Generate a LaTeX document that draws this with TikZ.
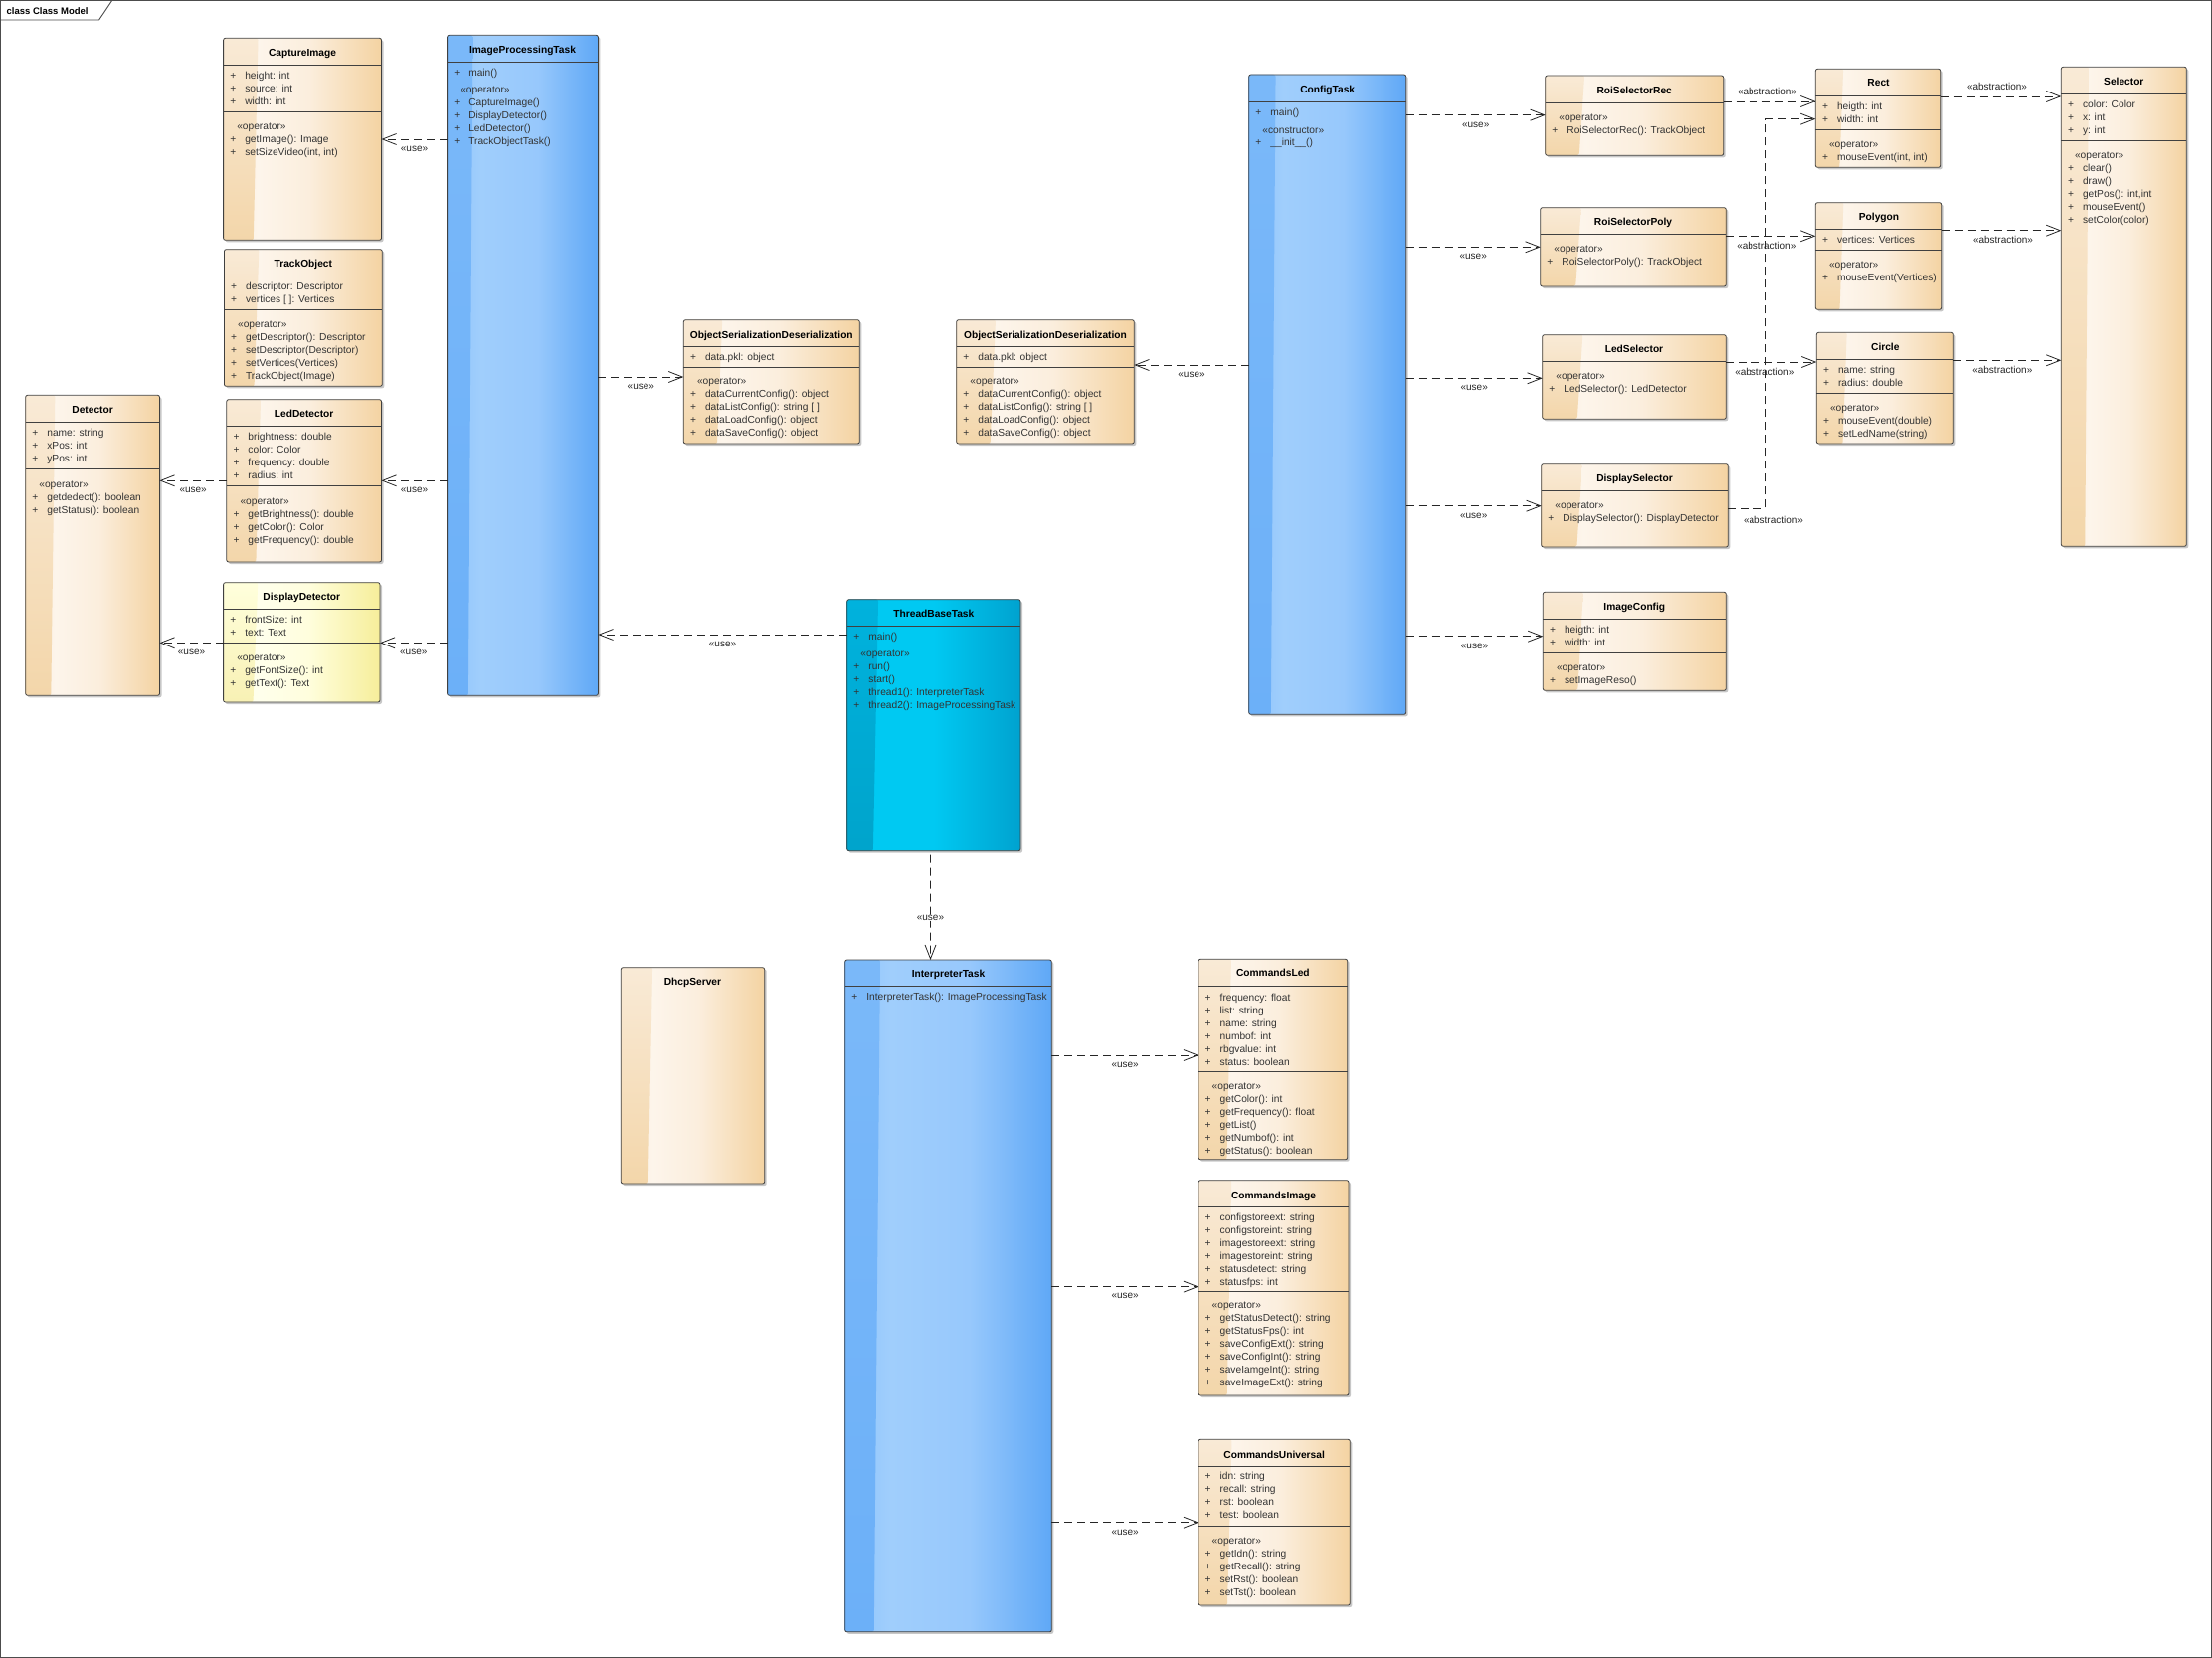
\documentclass[tikz,border=0pt]{standalone}
\usepackage{fontspec}
\setmainfont{Liberation Sans}
\usetikzlibrary{arrows.meta,shadows,calc}

\definecolor{orL}{HTML}{F9EAD6}
\definecolor{orM}{HTML}{FDF5EB}
\definecolor{orM2}{HTML}{FBEEDD}
\definecolor{orR}{HTML}{F4D3A2}
\definecolor{orS}{HTML}{F3D6AA}
\definecolor{blL}{HTML}{8CC3FB}
\definecolor{blM}{HTML}{A0CEFC}
\definecolor{blM2}{HTML}{97C8FC}
\definecolor{blR}{HTML}{5FA8F6}
\definecolor{blS}{HTML}{6CB0F8}
\definecolor{cyM}{HTML}{00C9F2}
\definecolor{cyR}{HTML}{00A2CF}
\definecolor{cyS}{HTML}{00B2DD}
\definecolor{yeL}{HTML}{FFFFDC}
\definecolor{yeM}{HTML}{FFFFEC}
\definecolor{yeM2}{HTML}{FFFEDD}
\definecolor{yeR}{HTML}{F6EE9A}
\definecolor{yeS}{HTML}{F8F1B4}

\pgfdeclarehorizontalshading{orsh}{100bp}{color(0bp)=(orL); color(25bp)=(orL); color(36bp)=(orM); color(52bp)=(orM2); color(75bp)=(orR); color(100bp)=(orR)}
\pgfdeclarehorizontalshading{blsh}{100bp}{color(0bp)=(blL); color(25bp)=(blL); color(36bp)=(blM); color(55bp)=(blM2); color(75bp)=(blR); color(100bp)=(blR)}
\pgfdeclarehorizontalshading{cysh}{100bp}{color(0bp)=(cyM); color(25bp)=(cyM); color(50bp)=(cyM); color(75bp)=(cyR); color(100bp)=(cyR)}
\pgfdeclarehorizontalshading{yesh}{100bp}{color(0bp)=(yeL); color(25bp)=(yeL); color(36bp)=(yeM); color(52bp)=(yeM2); color(75bp)=(yeR); color(100bp)=(yeR)}

\newcommand{\bodyf}{\fontsize{10.2}{13}\selectfont}
\newcommand{\op}[1]{\makebox[15pt][l]{+}#1}
\newcommand{\st}[1]{\hspace{7pt}«#1»}
\newcommand{\ucls}[8]{%
  \pgfmathsetmacro{\uw}{#5-#3}\pgfmathsetmacro{\uh}{#6-#4}%
  \node[#2, minimum width=\uw pt, minimum height=\uh pt] (#1) at (#3,#4) {};
  \node[ttl] (#1-t) at ({(#3+#5)/2},#8) {#7};}
\newcommand{\usep}[2]{\draw[sepl] (#1.west |- 0,#2) -- (#1.east |- 0,#2);}
\newcommand{\ucmp}[4]{\node[cmp] (#1) at (#2,#3) {\begin{tabular}[t]{@{}l@{}}#4\end{tabular}};}

\tikzset{
  box/.style={rectangle, draw=black!75, line width=0.8pt, rounded corners=2pt,
    inner sep=0pt, outer sep=0pt, anchor=north west,
    drop shadow={shadow xshift=2pt, shadow yshift=-2pt, opacity=0.22, fill=black}},
  strip/.style n args={4}{path picture={\shade[top color=#1, bottom color=#2]
    (path picture bounding box.south west)
    -- ($(path picture bounding box.south west)!#3!(path picture bounding box.south east)$)
    -- ($(path picture bounding box.north west)!#4!(path picture bounding box.north east)$)
    -- (path picture bounding box.north west) -- cycle;}},
  orbox/.style={box, shade, shading=orsh, strip={orL}{orS}{0.19}{0.22}},
  blbox/.style={box, shade, shading=blsh, strip={blS!55!blL}{blS}{0.14}{0.17}},
  cybox/.style={box, shade, shading=cysh, strip={cyS}{cyS!92!black}{0.15}{0.18}},
  yebox/.style={box, shade, shading=yesh, strip={yeL}{yeS}{0.19}{0.22}},
  ttl/.style={font=\bfseries\bodyf, inner sep=0pt, text height=7.4pt, text depth=2pt, text=black},
  cmp/.style={anchor=base west, inner sep=0pt, font=\bodyf, text=black!80},
  sepl/.style={draw=black!75, line width=0.8pt},
  dep/.style={draw=black!85, line width=0.8pt, dash pattern=on 8pt off 5pt,
    -{Straight Barb[length=14pt,width=11pt]}},
  lb/.style={font=\fontsize{10}{12}\selectfont, inner sep=0.5pt, text=black!85},
  lbb/.style={lb, midway, yshift=-9.7pt},
  lba/.style={lb, midway, yshift=10.5pt}
}

\begin{document}
\begin{tikzpicture}[x=1pt,y=-1pt]
\useasboundingbox (0,0) rectangle (2224,1667);
\fill[white] (0,0) rectangle (2224,1667);

% frame
\draw[black!70, line width=0.9pt] (0.5,0.5) rectangle (2223.5,1666.5);
\draw[black!70, line width=0.9pt] (0.5,20) -- (99.6,20) -- (112.7,0.5);
\node[font=\bfseries\fontsize{9.5}{11}\selectfont, anchor=west, inner sep=0pt] (frametitle) at (6.5,10.7) {class Class Model};

% ---------- left group ----------
\ucls{ci}{orbox}{224.6}{38.3}{383.5}{241.3}{CaptureImage}{53.7}
\usep{ci}{65.3}\usep{ci}{112.3}
\ucmp{ci-a}{231.1}{79.4}{\op{height: int}\\\op{source: int}\\\op{width: int}}
\ucmp{ci-m}{231.1}{130.7}{\st{operator}\\\op{getImage(): Image}\\\op{setSizeVideo(int, int)}}

\ucls{to}{orbox}{225.4}{250.7}{384.3}{388.3}{TrackObject}{265.7}
\usep{to}{277.3}\usep{to}{311.7}
\ucmp{to-a}{231.9}{291.4}{\op{descriptor: Descriptor}\\\op{vertices [ ]: Vertices}}
\ucmp{to-m}{231.9}{329.4}{\st{operator}\\\op{getDescriptor(): Descriptor}\\\op{setDescriptor(Descriptor)}\\\op{setVertices(Vertices)}\\\op{TrackObject(Image)}}

\ucls{ipt}{blbox}{449.6}{35.3}{601.4}{699.3}{ImageProcessingTask}{51}
\usep{ipt}{62.3}
\ucmp{ipt-m}{456.1}{76.7}{\op{main()}\\[4pt]\st{operator}\\\op{CaptureImage()}\\\op{DisplayDetector()}\\\op{LedDetector()}\\\op{TrackObjectTask()}}

\ucls{det}{orbox}{25.7}{397.3}{160.5}{699.3}{Detector}{412.7}
\usep{det}{424.3}\usep{det}{471.3}
\ucmp{det-a}{32.2}{438.4}{\op{name: string}\\\op{xPos: int}\\\op{yPos: int}}
\ucmp{det-m}{32.2}{490}{\st{operator}\\\op{getdedect(): boolean}\\\op{getStatus(): boolean}}

\ucls{led}{orbox}{227.8}{401.7}{383.5}{565}{LedDetector}{416.7}
\usep{led}{428.3}\usep{led}{488.3}
\ucmp{led-a}{234.3}{442.4}{\op{brightness: double}\\\op{color: Color}\\\op{frequency: double}\\\op{radius: int}}
\ucmp{led-m}{234.3}{507}{\st{operator}\\\op{getBrightness(): double}\\\op{getColor(): Color}\\\op{getFrequency(): double}}

\ucls{dd}{yebox}{224.6}{585.7}{382}{706}{DisplayDetector}{600.7}
\usep{dd}{612.3}\usep{dd}{646.3}
\ucmp{dd-a}{231.1}{626.4}{\op{frontSize: int}\\\op{text: Text}}
\ucmp{dd-m}{231.1}{664.7}{\st{operator}\\\op{getFontSize(): int}\\\op{getText(): Text}}

% ---------- serialization ----------
\ucls{osd1}{orbox}{687.3}{321.7}{864.3}{446}{ObjectSerializationDeserialization}{337.3}
\usep{osd1}{348.3}\usep{osd1}{369.3}
\ucmp{osd1-a}{693.8}{362.7}{\op{data.pkl: object}}
\ucmp{osd1-m}{693.8}{386}{\st{operator}\\\op{dataCurrentConfig(): object}\\\op{dataListConfig(): string [ ]}\\\op{dataLoadConfig(): object}\\\op{dataSaveConfig(): object}}

\ucls{osd2}{orbox}{961.7}{321.7}{1140.3}{446}{ObjectSerializationDeserialization}{337.3}
\usep{osd2}{348.3}\usep{osd2}{369.3}
\ucmp{osd2-a}{968.2}{362.7}{\op{data.pkl: object}}
\ucmp{osd2-m}{968.2}{386}{\st{operator}\\\op{dataCurrentConfig(): object}\\\op{dataListConfig(): string [ ]}\\\op{dataLoadConfig(): object}\\\op{dataSaveConfig(): object}}

% ---------- config group ----------
\ucls{ct}{blbox}{1255.7}{75}{1413.7}{718.3}{ConfigTask}{91}
\usep{ct}{102.3}
\ucmp{ct-m}{1262.2}{116.4}{\op{main()}\\[5pt]\st{constructor}\\[-1pt]\op{\_\_init\_\_()}}

\ucls{rsr}{orbox}{1553.7}{76}{1732.7}{156.3}{RoiSelectorRec}{91.7}
\usep{rsr}{103.3}
\ucmp{rsr-m}{1560.2}{122}{\st{operator}\\\op{RoiSelectorRec(): TrackObject}}

\ucls{rsp}{orbox}{1548.7}{208.7}{1735.3}{288}{RoiSelectorPoly}{224}
\usep{rsp}{235.3}
\ucmp{rsp-m}{1555.2}{253.7}{\st{operator}\\\op{RoiSelectorPoly(): TrackObject}}

\ucls{ls}{orbox}{1550.7}{336.7}{1735.3}{421.3}{LedSelector}{351.7}
\usep{ls}{363.3}
\ucmp{ls-m}{1557.2}{381.4}{\st{operator}\\\op{LedSelector(): LedDetector}}

\ucls{ds}{orbox}{1549.7}{466.7}{1737.3}{550}{DisplaySelector}{481.7}
\usep{ds}{493.3}
\ucmp{ds-m}{1556.2}{511.4}{\st{operator}\\\op{DisplaySelector(): DisplayDetector}}

\ucls{ic}{orbox}{1551.3}{595.3}{1735.3}{694.3}{ImageConfig}{610.7}
\usep{ic}{622.3}\usep{ic}{656.3}
\ucmp{ic-a}{1557.8}{636.4}{\op{heigth: int}\\\op{width: int}}
\ucmp{ic-m}{1557.8}{674.4}{\st{operator}\\\op{setImageReso()}}

\ucls{rect}{orbox}{1825.3}{69.3}{1951.7}{168.3}{Rect}{84.3}
\usep{rect}{96.3}\usep{rect}{130.3}
\ucmp{rect-a}{1831.8}{110.4}{\op{heigth: int}\\\op{width: int}}
\ucmp{rect-m}{1831.8}{148.7}{\st{operator}\\\op{mouseEvent(int, int)}}

\ucls{poly}{orbox}{1825.3}{203.7}{1952.7}{311.3}{Polygon}{218.7}
\usep{poly}{230.3}\usep{poly}{251.3}
\ucmp{poly-a}{1831.8}{244.4}{\op{vertices: Vertices}}
\ucmp{poly-m}{1831.8}{269.7}{\st{operator}\\\op{mouseEvent(Vertices)}}

\ucls{circ}{orbox}{1826.3}{334.3}{1964.3}{446}{Circle}{349.3}
\usep{circ}{361.3}\usep{circ}{395.3}
\ucmp{circ-a}{1832.8}{375.4}{\op{name: string}\\\op{radius: double}}
\ucmp{circ-m}{1832.8}{413.7}{\st{operator}\\\op{mouseEvent(double)}\\\op{setLedName(string)}}

\ucls{sel}{orbox}{2072.3}{67.3}{2198.3}{549.3}{Selector}{82.7}
\usep{sel}{94.3}\usep{sel}{141.3}
\ucmp{sel-a}{2078.8}{108.4}{\op{color: Color}\\\op{x: int}\\\op{y: int}}
\ucmp{sel-m}{2078.8}{159.4}{\st{operator}\\\op{clear()}\\\op{draw()}\\\op{getPos(): int,int}\\\op{mouseEvent()}\\\op{setColor(color)}}

% ---------- thread / interpreter ----------
\ucls{tbt}{cybox}{851.7}{602.7}{1026}{855.7}{ThreadBaseTask}{617.3}
\usep{tbt}{629}
\ucmp{tbt-m}{858.2}{643.7}{\op{main()}\\[4pt]\st{operator}\\\op{run()}\\\op{start()}\\\op{thread1(): InterpreterTask}\\\op{thread2(): ImageProcessingTask}}

\ucls{it}{blbox}{849.7}{965}{1057.3}{1640.8}{InterpreterTask}{979.3}
\usep{it}{991.7}
\ucmp{it-m}{856.2}{1005.4}{\op{InterpreterTask(): ImageProcessingTask}}

\ucls{dhcp}{orbox}{624.3}{972.7}{768.7}{1190}{DhcpServer}{987.7}

\ucls{cl}{orbox}{1205}{964.3}{1354.7}{1165.7}{CommandsLed}{979}
\usep{cl}{991.7}\usep{cl}{1077.3}
\ucmp{cl-a}{1211.5}{1006}{\op{frequency: float}\\\op{list: string}\\\op{name: string}\\\op{numbof: int}\\\op{rbgvalue: int}\\\op{status: boolean}}
\ucmp{cl-m}{1211.5}{1095.7}{\st{operator}\\\op{getColor(): int}\\\op{getFrequency(): float}\\\op{getList()}\\\op{getNumbof(): int}\\\op{getStatus(): boolean}}

\ucls{cmi}{orbox}{1205}{1186.7}{1356}{1403}{CommandsImage}{1202.7}
\usep{cmi}{1213.3}\usep{cmi}{1298.3}
\ucmp{cmi-a}{1211.5}{1227.4}{\op{configstoreext: string}\\\op{configstoreint: string}\\\op{imagestoreext: string}\\\op{imagestoreint: string}\\\op{statusdetect: string}\\\op{statusfps: int}}
\ucmp{cmi-m}{1211.5}{1315.7}{\st{operator}\\\op{getStatusDetect(): string}\\\op{getStatusFps(): int}\\\op{saveConfigExt(): string}\\\op{saveConfigInt(): string}\\\op{saveIamgeInt(): string}\\\op{saveImageExt(): string}}

\ucls{cu}{orbox}{1205}{1447.3}{1357.3}{1614}{CommandsUniversal}{1463.3}
\usep{cu}{1474}\usep{cu}{1534}
\ucmp{cu-a}{1211.5}{1487.7}{\op{idn: string}\\\op{recall: string}\\\op{rst: boolean}\\\op{test: boolean}}
\ucmp{cu-m}{1211.5}{1552.4}{\st{operator}\\\op{getIdn(): string}\\\op{getRecall(): string}\\\op{setRst(): boolean}\\\op{setTst(): boolean}}

% ---------- connectors ----------
\draw[dep] (ipt.west |- 0,140) -- node[lbb]{«use»} (ci.east |- 0,140);
\draw[dep] (ipt.west |- 0,483.3) -- node[lbb]{«use»} (led.east |- 0,483.3);
\draw[dep] (led.west |- 0,483.3) -- node[lbb]{«use»} (det.east |- 0,483.3);
\draw[dep] (ipt.west |- 0,646.3) -- node[lbb]{«use»} (dd.east |- 0,646.3);
\draw[dep] (dd.west |- 0,646.3) -- node[lbb]{«use»} (det.east |- 0,646.3);
\draw[dep] (ipt.east |- 0,379) -- node[lbb]{«use»} (osd1.west |- 0,379);
\draw[dep] (ct.west |- 0,367) -- node[lbb]{«use»} (osd2.east |- 0,367);
\draw[dep] (tbt.west |- 0,638) -- node[lbb]{«use»} (ipt.east |- 0,638);
\draw[dep] ([xshift=-3.4pt,yshift=-4pt]tbt.south) -- node[lb,pos=0.6,fill=white]{«use»} ([xshift=-18pt]it.north);

\draw[dep] (ct.east |- 0,115.7) -- node[lbb]{«use»} (rsr.west |- 0,115.7);
\draw[dep] (ct.east |- 0,248.3) -- node[lbb]{«use»} (rsp.west |- 0,248.3);
\draw[dep] (ct.east |- 0,380.3) -- node[lbb]{«use»} (ls.west |- 0,380.3);
\draw[dep] (ct.east |- 0,508.7) -- node[lbb]{«use»} (ds.west |- 0,508.7);
\draw[dep] (ct.east |- 0,639.7) -- node[lbb]{«use»} (ic.west |- 0,639.7);

\draw[dep] (rsr.east |- 0,102) -- node[lba, xshift=-2pt]{«abstraction»} (rect.west |- 0,102);
\draw[dep] (rsp.east |- 0,237.3) -- node[lbb, xshift=-4pt]{«abstraction»} (poly.west |- 0,237.3);
\draw[dep] (ls.east |- 0,364) -- node[lbb, xshift=-6.5pt]{«abstraction»} (circ.west |- 0,364);
\coordinate (dsb) at (1775.7,511);
\draw[dep] (ds.east |- dsb) -- (dsb) node[lb, xshift=7.3pt, yshift=-11.7pt]{«abstraction»}
  -- (dsb |- 0,119.7) -- (rect.west |- 0,119.7);
\draw[dep] (rect.east |- 0,97) -- node[lba, xshift=-4pt]{«abstraction»} (sel.west |- 0,97);
\draw[dep] (poly.east |- 0,231.7) -- node[lbb, xshift=1.5pt]{«abstraction»} (sel.west |- 0,231.7);
\draw[dep] (circ.east |- 0,362.3) -- node[lbb, xshift=-5pt]{«abstraction»} (sel.west |- 0,362.3);

\draw[dep] (it.east |- 0,1061) -- node[lbb]{«use»} (cl.west |- 0,1061);
\draw[dep] (it.east |- 0,1293.6) -- node[lbb]{«use»} (cmi.west |- 0,1293.6);
\draw[dep] (it.east |- 0,1530.7) -- node[lbb]{«use»} (cu.west |- 0,1530.7);
\end{tikzpicture}
\end{document}
